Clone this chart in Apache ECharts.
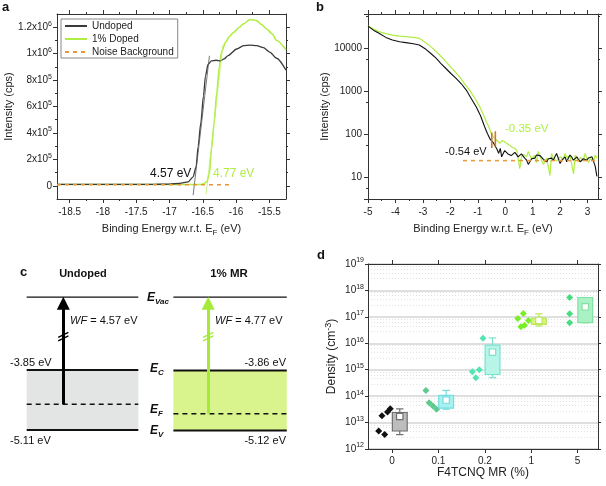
<!DOCTYPE html>
<html><head><meta charset="utf-8">
<script src="https://cdn.jsdelivr.net/npm/echarts@6/dist/echarts.min.js"></script>
<style>html,body{margin:0;padding:0;background:#fff}#c{width:606px;height:486px}</style>
</head><body><div id="c"></div>
<script>
// ================= DATA =================
// Panel a : secondary electron cut-off
const aEnergyUndoped = [-18.69,-17.30,-17.00,-16.85,-16.72,-16.645,-16.60,-16.57,-16.53,-16.49,-16.46,-16.42,-16.37,-16.30,-16.24,-16.18,-16.12,-15.99,-15.89,-15.79,-15.69,-15.59,-15.49,-15.39,-15.25];
const aIntensityUndoped = [1.0e4,1.0e4,1.3e4,1.8e4,3.0e4,6.8e4,1.45e5,2.97e5,4.75e5,6.8e5,8.3e5,9.2e5,9.45e5,9.5e5,9.45e5,9.6e5,9.85e5,1.035e6,1.06e6,1.065e6,1.06e6,1.045e6,1.01e6,9.65e5,8.75e5];
const aEnergyDoped = [-18.69,-16.55,-16.49,-16.44,-16.40,-16.37,-16.33,-16.29,-16.25,-16.22,-16.16,-16.10,-16.04,-15.95,-15.89,-15.79,-15.69,-15.62,-15.54,-15.46,-15.39,-15.25];
const aIntensityDoped = [1.0e4,1.0e4,1.3e4,3.0e4,9.4e4,2.72e5,4.75e5,7.04e5,9.07e5,1.01e6,1.085e6,1.13e6,1.16e6,1.2e6,1.225e6,1.258e6,1.25e6,1.22e6,1.187e6,1.15e6,1.10e6,1.03e6];
const aTangentUndoped = [[-16.645,-7.1e4],[-16.40,9.84e5]];
const aTangentDoped = [[-16.45,-6.3e4],[-16.20,1.06e6]];
const aNoise = [[-18.69,8e3],[-16.07,8e3]];
const aXTicks = [-18.5,-18,-17.5,-17,-16.5,-16,-15.5];
const aXMinorTicks = [-18.25,-17.75,-17.25,-16.75,-16.25,-15.75];
const aYTicks = [0,2e5,4e5,6e5,8e5,1e6,1.2e6];
const aYMinorTicks = [1e5,3e5,5e5,7e5,9e5,1.1e6];
const aLegend = ['Undoped','1% Doped','Noise Background'];

// Panel b : valence band onset (log scale)
const bDoped = [[-5,33000],[-4.8,28000],[-4.6,24500],[-4.35,22000],[-4.11,20400],[-3.85,19300],[-3.62,18700],[-3.35,18000],[-3.13,17100],[-2.95,14300],[-2.8,12200],[-2.64,10000],[-2.4,7100],[-2.16,4900],[-1.9,3200],[-1.67,2200],[-1.5,1550],[-1.3,1070],[-1.1,680],[-0.93,440],[-0.8,290],[-0.69,196],[-0.6,150],[-0.51,105],[-0.42,85],[-0.35,78],[-0.28,70],[-0.2,62],[-0.1,72],[-0.02,67],[0.08,60],[0.16,56],[0.25,50],[0.35,47],[0.42,42],[0.47,40],[0.53,16],[0.59,30],[0.65,34],[0.71,36],[0.78,30],[0.84,40],[0.9,32],[0.96,27],[1.02,30],[1.08,33],[1.14,22],[1.2,40],[1.27,30],[1.33,27],[1.39,20],[1.45,18],[1.51,28],[1.57,30],[1.63,11],[1.69,36],[1.75,28],[1.81,30],[1.87,24],[1.94,25],[2.0,30],[2.06,33],[2.12,26],[2.18,36],[2.24,29],[2.3,27],[2.36,32],[2.43,30],[2.49,12],[2.55,33],[2.61,28],[2.67,23],[2.73,29],[2.79,30],[2.85,25],[2.91,36],[2.97,28],[3.03,22],[3.1,27],[3.16,30],[3.22,24],[3.28,33],[3.34,28]];
const bUndoped = [[-5,33000],[-4.8,26500],[-4.6,22400],[-4.35,18000],[-4.11,15600],[-3.85,14300],[-3.62,13600],[-3.35,12800],[-3.13,12000],[-2.89,9500],[-2.7,7500],[-2.52,5900],[-2.35,4500],[-2.16,3400],[-1.98,2600],[-1.79,2000],[-1.6,1500],[-1.42,1070],[-1.25,700],[-1.06,440],[-0.9,270],[-0.75,150],[-0.65,105],[-0.54,75],[-0.45,66],[-0.38,62],[-0.3,45],[-0.24,36],[-0.18,47],[-0.13,30],[-0.08,33],[-0.02,42],[0.04,40],[0.1,35],[0.16,36],[0.22,32],[0.29,30],[0.35,38],[0.41,36],[0.47,30],[0.53,27],[0.59,35],[0.65,33],[0.71,28],[0.78,25],[0.84,20],[0.9,23],[0.96,27],[1.02,30],[1.08,28],[1.14,33],[1.2,36],[1.27,32],[1.33,30],[1.39,26],[1.45,25],[1.51,23],[1.57,27],[1.63,30],[1.69,28],[1.75,25],[1.81,30],[1.87,36],[1.94,27],[2.0,21],[2.06,25],[2.12,27],[2.18,30],[2.24,23],[2.3,28],[2.36,33],[2.43,29],[2.48,25],[2.55,27],[2.61,30],[2.67,26],[2.73,23],[2.79,25],[2.85,27],[2.91,30],[2.97,25],[3.03,28],[3.1,26],[3.16,30],[3.22,27],[3.28,18],[3.34,10.5]];
const bNoise = [[-1.54,24.5],[3.38,24.5]];
const bOnsetUndoped = [[-0.49,48],[-0.49,110]];
const bOnsetDoped = [[-0.36,52],[-0.36,118]];
const bXTicks = [-5,-4,-3,-2,-1,0,1,2,3];
const bXMinorTicks = [-4.5,-3.5,-2.5,-1.5,-0.5,0.5,1.5,2.5];

// Panel c : energy levels (eV)
const cUndopedLevels = [-3.85,-4.57,-5.11];   // Ec, EF, Ev
const cDopedLevels = [-3.86,-4.77,-5.12];     // Ec, EF, Ev
const cVacuumDisplay = -2.32;                 // vacuum level drawn above the axis break

// Panel d : carrier density
const dCategories = ['0','0.1','0.2','1','5'];
const dDensity = [[4.8e12,3.5e12,1.8e13,2.5e13,3.3e13],[1.65e14,5.6e13,4.2e13,3.2e13],[8.4e14,5.0e14,1.0e15,1.56e16],[8.7e16,1.34e17,4.2e16,4.8e16,7.3e16],[5.4e17,1.3e17,6e16]];
const dJitter = [[-0.29,-0.16,-0.22,-0.10,-0.04],[-0.27,-0.20,-0.12,-0.04],[-0.27,-0.195,-0.12,-0.04],[-0.29,-0.17,-0.225,-0.145,-0.06],[-0.17,-0.17,-0.17]];
const dBoxMin = [3.5e12,3.2e13,5e14,4.5e16,6e16];
const dBoxQ1 = [4.8e12,3.5e13,6.6e14,5.2e16,6e16];
const dBoxQ3 = [2.4e13,1.07e14,8.5e15,8.7e16,5.4e17];
const dBoxMax = [3.3e13,1.65e14,1.6e16,1.3e17,5.4e17];
const dBoxMean = [1.7e13,7.1e13,4.6e15,7.3e16,2.4e17];

// ================= STYLE =================
const F = '"Liberation Sans", Arial, Helvetica, sans-serif';
const INK = '#333';
const TXT = '#222';
const GREEN = '#b0ee44';
const ORANGE = '#e8963a';
const dPointColors = ['#111111','#5cc98e','#4fe6b2','#7aee2a','#45de7c'];
const dBoxFill = ['#bdbdbd','#a8f1f0','#b6f5e8','#d6f67c','#aaf1c4'];
const dBoxStroke = ['#707070','#74dede','#78e4cc','#bde65c','#82e0a4'];
const BOX_OFFSET = 0.165, BOX_W = 0.32;

const xAxes = [], yAxes = [];
function add(list, o){ list.push(o); return list.length - 1; }
function tickAxis(grid, position, type, min, max, ticks, len, showLine, extra){
  const o = {
    gridIndex: grid, position: position, type: type, min: min, max: max,
    axisLine: {show: showLine, onZero: false, lineStyle: {color: INK, width: 1}},
    axisTick: {show: true, inside: false, length: len, lineStyle: {color: INK, width: 1}},
    axisLabel: {show: false},
    splitLine: {show: false},
    axisPointer: {show: false}
  };
  if (ticks) o.axisTick.customValues = ticks;
  return Object.assign(o, extra || {});
}
const supRich = {
  n: {fontSize: 10, fontFamily: F, color: TXT, lineHeight: 14},
  s: {fontSize: 7, fontFamily: F, color: TXT, lineHeight: 7, verticalAlign: 'top'}
};
const nameStyle = (size) => ({
  fontSize: size, fontFamily: F, color: TXT,
  rich: {
    n: {fontSize: size, fontFamily: F, color: TXT, lineHeight: 16},
    sub: {fontSize: size - 3, fontFamily: F, color: TXT, lineHeight: 8, verticalAlign: 'bottom'},
    sup: {fontSize: size - 3, fontFamily: F, color: TXT, lineHeight: 8, verticalAlign: 'top'}
  }
});
function sciLabel(v){
  if (Math.abs(v) < 1e-9) return '{n|0}';
  const e = Math.floor(Math.log10(v) + 1e-9);
  const m = Math.round(v / Math.pow(10, e) * 10) / 10;
  return '{n|' + m + 'x10}{s|' + e + '}';
}

// ---- panel a axes (grid 0)
const A_XMIN = -18.69, A_XMAX = -15.25, A_YMIN = -1e5, A_YMAX = 1.3e6;
const aX = add(xAxes, tickAxis(0,'bottom','value',A_XMIN,A_XMAX,aXTicks,4,true,{
  axisLabel: {show: true, customValues: aXTicks, fontSize: 10, fontFamily: F, color: TXT, margin: 8},
  name: '{n|Binding Energy w.r.t. E}{sub|F}{n| (eV)}', nameLocation: 'middle', nameGap: 22, nameTextStyle: nameStyle(11)
}));
add(xAxes, tickAxis(0,'bottom','value',A_XMIN,A_XMAX,aXMinorTicks,2,false));
add(xAxes, tickAxis(0,'top','value',A_XMIN,A_XMAX,aXTicks,4,true));
add(xAxes, tickAxis(0,'top','value',A_XMIN,A_XMAX,aXMinorTicks,2,false));
const aY = add(yAxes, tickAxis(0,'left','value',A_YMIN,A_YMAX,aYTicks,4,true,{
  axisLabel: {show: true, customValues: aYTicks, formatter: sciLabel, rich: supRich, margin: 5},
  name: 'Intensity (cps)', nameLocation: 'middle', nameGap: 40, nameTextStyle: nameStyle(11)
}));
add(yAxes, tickAxis(0,'left','value',A_YMIN,A_YMAX,aYMinorTicks,2,false));
add(yAxes, tickAxis(0,'right','value',A_YMIN,A_YMAX,aYTicks,4,true));
add(yAxes, tickAxis(0,'right','value',A_YMIN,A_YMAX,aYMinorTicks,2,false));

// ---- panel b axes (grid 1)
const B_XMIN = -5, B_XMAX = 3.38, B_YMIN = 3.13, B_YMAX = 63000;
const bX = add(xAxes, tickAxis(1,'bottom','value',B_XMIN,B_XMAX,bXTicks,4,true,{
  axisLabel: {show: true, customValues: bXTicks, fontSize: 10, fontFamily: F, color: TXT, margin: 8},
  name: '{n|Binding Energy w.r.t. E}{sub|F}{n| (eV)}', nameLocation: 'middle', nameGap: 22, nameTextStyle: nameStyle(11)
}));
add(xAxes, tickAxis(1,'bottom','value',B_XMIN,B_XMAX,bXMinorTicks,2,false));
add(xAxes, tickAxis(1,'top','value',B_XMIN,B_XMAX,bXTicks,4,true));
add(xAxes, tickAxis(1,'top','value',B_XMIN,B_XMAX,bXMinorTicks,2,false));
const bY = add(yAxes, tickAxis(1,'left','log',B_YMIN,B_YMAX,null,4,true,{
  logBase: 10,
  minorTick: {show: true, splitNumber: 2, length: 2, lineStyle: {color: INK}},
  axisLabel: {show: true, showMinLabel: false, showMaxLabel: false, fontSize: 10, fontFamily: F, color: TXT, margin: 6,
    formatter: v => String(Math.round(v))},
  name: 'Intensity (cps)', nameLocation: 'middle', nameGap: 35, nameTextStyle: nameStyle(11)
}));
add(yAxes, tickAxis(1,'right','log',B_YMIN,B_YMAX,null,4,true,{
  logBase: 10, minorTick: {show: true, splitNumber: 2, length: 2, lineStyle: {color: INK}}
}));

// ---- panel c axes (grid 2, hidden)
const C_YMIN = -6.287, C_YMAX = -1.119;
const cX = add(xAxes, {gridIndex: 2, type: 'value', min: 0, max: 100, show: false});
const cY = add(yAxes, {gridIndex: 2, type: 'value', min: C_YMIN, max: C_YMAX, show: false});

// ---- panel d axes (grid 3)
const D_XMIN = -0.52, D_XMAX = 4.44;
const dTicks = dCategories.map((c, i) => i);
const dX = add(xAxes, tickAxis(3,'bottom','value',D_XMIN,D_XMAX,dTicks,4,true,{
  axisLabel: {show: true, customValues: dTicks, formatter: v => dCategories[Math.round(v)], fontSize: 10, fontFamily: F, color: TXT, margin: 7},
  name: 'F4TCNQ MR (%)', nameLocation: 'middle', nameGap: 16, nameTextStyle: nameStyle(12)
}));
add(xAxes, tickAxis(3,'top','value',D_XMIN,D_XMAX,dTicks,4,true));
const dY = add(yAxes, tickAxis(3,'left','log',1e12,1e19,null,3,true,{
  logBase: 10, splitNumber: 7,
  splitLine: {show: true, lineStyle: {color: '#d4d4d4', width: 1.5}},
  minorTick: {show: true, splitNumber: 5, length: 0},
  minorSplitLine: {show: true, lineStyle: {color: '#e2e2e2', width: 1, type: [1,2]}},
  axisLabel: {show: true, formatter: v => '{n|10}{s|' + Math.round(Math.log10(v)) + '}', rich: supRich, margin: 4},
  name: '{n|Density (cm}{sup|-3}{n|)}', nameLocation: 'middle', nameGap: 28, nameTextStyle: nameStyle(12)
}));
add(yAxes, tickAxis(3,'right','log',1e12,1e19,null,3,true,{logBase: 10, splitNumber: 7}));

// ================= SERIES =================
const series = [];
const zip = (xs, ys) => xs.map((x, i) => [x, ys[i]]);
function line(name, xi, yi, data, color, width, extra){
  return Object.assign({
    type: 'line', name: name, xAxisIndex: xi, yAxisIndex: yi, data: data,
    symbol: 'none', showSymbol: false, silent: true, animation: false,
    lineStyle: {color: color, width: width}, itemStyle: {color: color}
  }, extra || {});
}
// panel a
series.push(line('Undoped', aX, aY, zip(aEnergyUndoped, aIntensityUndoped), '#3a3a3a', 1.3, {smooth: 0.25, smoothMonotone: 'x', z: 3}));
series.push(line('1% Doped', aX, aY, zip(aEnergyDoped, aIntensityDoped), GREEN, 1.6, {smooth: 0.25, smoothMonotone: 'x', z: 2}));
series.push(line('a-tan-u', aX, aY, aTangentUndoped, '#555', 0.8, {z: 4}));
series.push(line('a-tan-d', aX, aY, aTangentDoped, '#bdef66', 0.8, {z: 4}));
series.push(line('Noise Background', aX, aY, aNoise, ORANGE, 1.5, {lineStyle: {color: ORANGE, width: 1.5, type: [4,4]}, z: 5}));
// panel b
series.push(line('b-doped', bX, bY, bDoped, GREEN, 1.2, {z: 2}));
series.push(line('b-undoped', bX, bY, bUndoped, '#111', 1.1, {z: 3}));
series.push(line('b-noise', bX, bY, bNoise, ORANGE, 1.5, {lineStyle: {color: ORANGE, width: 1.5, type: [4,4]}, z: 4}));
series.push(line('b-on-u', bX, bY, bOnsetUndoped, '#c97a2e', 1.6, {z: 5}));
series.push(line('b-on-d', bX, bY, bOnsetDoped, '#c97a2e', 1.6, {z: 5}));

// panel c
const cCols = [
  {x0: 8.9, x1: 46.1, ax: 21.1, lv: cUndopedLevels, fill: '#e3e4e4', arrow: '#000'},
  {x0: 57.8, x1: 95.6, ax: 69.4, lv: cDopedLevels, fill: '#d9f48c', arrow: '#a4ea36'}
];
const pxPerEv = 246 / (C_YMAX - C_YMIN);
const headHalf = 6 / pxPerEv;
cCols.forEach((c, k) => {
  const [Ec, EF, Ev] = c.lv;
  series.push(line('c-vac' + k, cX, cY, [[c.x0, cVacuumDisplay],[c.x1, cVacuumDisplay]], '#111', 1.3));
  series.push(line('c-ec' + k, cX, cY, [[c.x0, Ec],[c.x1, Ec]], '#111', 2, {
    z: 3,
    markArea: {silent: true, itemStyle: {color: c.fill, opacity: 1}, data: [[{coord: [c.x0, Ec]}, {coord: [c.x1, Ev]}]]}
  }));
  series.push(line('c-ef' + k, cX, cY, [[c.x0, EF],[c.x1, EF]], '#111', 1.5, {lineStyle: {color: '#111', width: 1.5, type: [5,4]}, z: 3}));
  series.push(line('c-ev' + k, cX, cY, [[c.x0, Ev],[c.x1, Ev]], '#111', 2, {z: 3}));
  series.push({
    type: 'lines', coordinateSystem: 'cartesian2d', xAxisIndex: cX, yAxisIndex: cY, silent: true, z: 6,
    symbol: ['none','triangle'], symbolSize: [0, 13],
    lineStyle: {color: c.arrow, width: 3, opacity: 1}, itemStyle: {color: c.arrow},
    data: [{coords: [[c.ax, EF],[c.ax, cVacuumDisplay - headHalf]]}]
  });
  const bE = -3.15, dx = 1.7, dy = 2.5 / pxPerEv, gap = 3.5 / pxPerEv;
  series.push({
    type: 'lines', coordinateSystem: 'cartesian2d', xAxisIndex: cX, yAxisIndex: cY, silent: true, z: 7,
    lineStyle: {color: c.arrow, width: 1.4, opacity: 1},
    data: [
      {coords: [[c.ax - dx, bE - dy + gap/2],[c.ax + dx, bE + dy + gap/2]]},
      {coords: [[c.ax - dx, bE - dy - gap/2],[c.ax + dx, bE + dy - gap/2]]}
    ]
  });
});

// panel d
dCategories.forEach((cat, i) => {
  series.push({
    type: 'scatter', name: 'd-pts-' + cat, xAxisIndex: dX, yAxisIndex: dY, silent: true,
    symbol: 'diamond', symbolSize: 7, itemStyle: {color: dPointColors[i], opacity: 1}, z: 4,
    data: dDensity[i].map((v, k) => [i + dJitter[i][k], v])
  });
});
series.push({
  type: 'custom', name: 'd-box', xAxisIndex: dX, yAxisIndex: dY, silent: true, z: 5,
  encode: {x: 0, y: [1,2,3,4,5]},
  data: dCategories.map((c, i) => [i + BOX_OFFSET, dBoxMin[i], dBoxQ1[i], dBoxQ3[i], dBoxMax[i], dBoxMean[i]]),
  renderItem: function(params, api){
    const i = params.dataIndex;
    const x = api.value(0);
    const lo = api.coord([x, api.value(1)]);
    const q1 = api.coord([x, api.value(2)]);
    const q3 = api.coord([x, api.value(3)]);
    const hi = api.coord([x, api.value(4)]);
    const mn = api.coord([x, api.value(5)]);
    const w = api.coord([x + BOX_W/2, api.value(5)])[0] - api.coord([x - BOX_W/2, api.value(5)])[0];
    const stroke = dBoxStroke[i], fill = dBoxFill[i];
    const ls = {stroke: stroke, lineWidth: 1.2};
    return {type: 'group', children: [
      {type: 'line', shape: {x1: lo[0], y1: lo[1], x2: q1[0], y2: q1[1]}, style: ls},
      {type: 'line', shape: {x1: q3[0], y1: q3[1], x2: hi[0], y2: hi[1]}, style: ls},
      {type: 'line', shape: {x1: lo[0] - w/4, y1: lo[1], x2: lo[0] + w/4, y2: lo[1]}, style: ls},
      {type: 'line', shape: {x1: hi[0] - w/4, y1: hi[1], x2: hi[0] + w/4, y2: hi[1]}, style: ls},
      {type: 'rect', shape: {x: q3[0] - w/2, y: q3[1], width: w, height: q1[1] - q3[1]}, style: {fill: fill, stroke: stroke, lineWidth: 1.2}},
      {type: 'rect', shape: {x: mn[0] - 3.2, y: mn[1] - 3.2, width: 6.4, height: 6.4}, style: {fill: '#fff', stroke: stroke, lineWidth: 1.2}}
    ]};
  }
});

// ================= TEXT =================
function txt(x, y, text, size, opts){
  opts = opts || {};
  return {type: 'text', x: x, y: y, silent: true, z: 100,
    style: Object.assign({text: text, fontSize: size, fontFamily: F, fill: opts.fill || '#111',
      fontWeight: opts.bold ? 'bold' : 'normal', align: opts.align || 'left', verticalAlign: opts.va || 'middle'}, opts.style || {})};
}
const eRich = (size) => ({
  e: {fontSize: size, fontFamily: F, fontStyle: 'italic', fontWeight: 'bold', fill: '#111', lineHeight: 16},
  s: {fontSize: size - 4, fontFamily: F, fontStyle: 'italic', fontWeight: 'bold', fill: '#111', lineHeight: 8, verticalAlign: 'bottom'}
});
const wfRich = {i: {fontSize: 11, fontFamily: F, fontStyle: 'italic', fill: '#111'}, n: {fontSize: 11, fontFamily: F, fill: '#111'}};
const graphics = [
  txt(2, 1, 'a', 13, {bold: true, va: 'top'}),
  txt(316, 1, 'b', 13, {bold: true, va: 'top'}),
  txt(20, 266, 'c', 13, {bold: true, va: 'top'}),
  txt(317, 249, 'd', 13, {bold: true, va: 'top'}),
  txt(150, 174, '4.57 eV', 12, {fill: '#111'}),
  txt(213, 174, '4.77 eV', 12, {fill: GREEN}),
  txt(445, 152, '-0.54 eV', 11, {fill: '#111'}),
  txt(505, 128.5, '-0.35 eV', 11.5, {fill: GREEN}),
  txt(83, 273.5, 'Undoped', 11, {bold: true, align: 'center'}),
  txt(229, 273.5, '1% MR', 11.5, {bold: true, align: 'center'}),
  txt(147, 298, '{e|E}{s|Vac}', 12, {style: {rich: eRich(12)}}),
  txt(150, 369, '{e|E}{s|C}', 12, {style: {rich: eRich(12)}}),
  txt(150, 410, '{e|E}{s|F}', 12, {style: {rich: eRich(12)}}),
  txt(150, 431, '{e|E}{s|V}', 12, {style: {rich: eRich(12)}}),
  txt(70, 321, '{i|WF}{n| = 4.57 eV}', 11, {style: {rich: wfRich}}),
  txt(215, 321, '{i|WF}{n| = 4.77 eV}', 11, {style: {rich: wfRich}}),
  txt(10, 362.5, '-3.85 eV', 11),
  txt(286, 362.5, '-3.86 eV', 11, {align: 'right'}),
  txt(10, 441, '-5.11 eV', 11),
  txt(286, 441, '-5.12 eV', 11, {align: 'right'})
];

const option = {
  animation: false,
  backgroundColor: '#fff',
  textStyle: {fontFamily: F},
  grid: [
    {left: 57, top: 14, width: 229, height: 185, containLabel: false, outerBoundsMode: 'none'},
    {left: 368, top: 14, width: 230, height: 185, containLabel: false, outerBoundsMode: 'none'},
    {left: 0, top: 240, width: 300, height: 246, containLabel: false, outerBoundsMode: 'none'},
    {left: 368, top: 264, width: 230, height: 185, containLabel: false, outerBoundsMode: 'none'}
  ],
  legend: {
    data: aLegend, orient: 'vertical', left: 61, top: 19, selectedMode: false,
    itemWidth: 22, itemHeight: 10, itemGap: 3, padding: [2, 4, 1, 3],
    itemStyle: {color: 'rgba(0,0,0,0)', borderWidth: 0, opacity: 0},
    borderColor: '#888', borderWidth: 1, backgroundColor: '#fff',
    textStyle: {fontSize: 10, fontFamily: F, color: TXT}
  },
  xAxis: xAxes,
  yAxis: yAxes,
  series: series,
  graphic: graphics
};
const chart = echarts.init(document.getElementById('c'), null, {renderer: 'canvas', width: 606, height: 486});
chart.setOption(option);
</script>
</body></html>
